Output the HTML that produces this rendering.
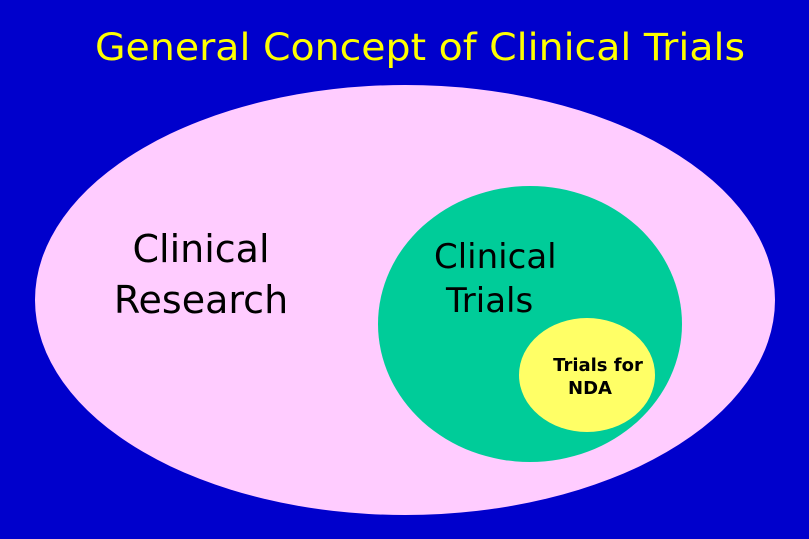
<!DOCTYPE html>
<html><head><meta charset="utf-8"><style>html,body{margin:0;padding:0;background:#0000cc;}svg{display:block}</style></head>
<body>
<svg width="809" height="539" viewBox="0 0 809 539" xmlns="http://www.w3.org/2000/svg">
<rect width="809" height="539" fill="#0000cc"/>
<text x="420" y="60" text-anchor="middle" font-family="DejaVu Sans, sans-serif" font-size="37" fill="#ffff00" textLength="650" lengthAdjust="spacingAndGlyphs">General Concept of Clinical Trials</text>
<ellipse cx="405" cy="300" rx="370" ry="215" fill="#ffccff"/>
<ellipse cx="530" cy="324" rx="152" ry="138" fill="#00cc99"/>
<ellipse cx="587" cy="375" rx="68" ry="57" fill="#ffff66"/>
<g font-family="DejaVu Sans, sans-serif" fill="#000">
<text x="201" y="262" text-anchor="middle" font-size="38">Clinical</text>
<text x="201" y="313" text-anchor="middle" font-size="38">Research</text>
<text x="434" y="268" font-size="34">Clinical</text>
<text x="446" y="312" font-size="34">Trials</text>
<text x="598" y="371" text-anchor="middle" font-size="18" font-weight="bold">Trials for</text>
<text x="590" y="394" text-anchor="middle" font-size="18" font-weight="bold">NDA</text>
</g>
</svg>
</body></html>
